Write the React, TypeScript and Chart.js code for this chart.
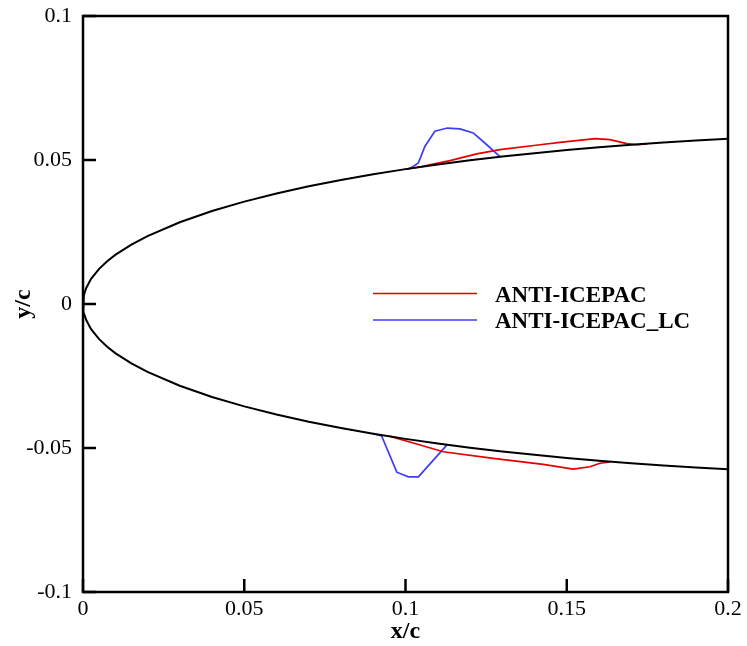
import React, { useEffect, useRef } from 'react';
import { Chart, registerables } from 'chart.js';

Chart.register(...registerables);

// Axis ranges / tick labels
const xTickValues = [0, 0.05, 0.1, 0.15, 0.2];
const yTickValues = [-0.1, -0.05, 0, 0.05, 0.1];

// Clean airfoil contour (leading edge to x/c = 0.2)
const cleanX = [0, 0.0001, 0.00025, 0.0005, 0.001, 0.0025, 0.005, 0.0075, 0.01, 0.015, 0.02, 0.03, 0.04, 0.05, 0.06, 0.07, 0.08, 0.09, 0.1, 0.11, 0.12, 0.13, 0.14, 0.15, 0.16, 0.17, 0.18, 0.19, 0.2];
const cleanUpperY = [0, 0.00177, 0.0028, 0.00395, 0.00556, 0.00872, 0.01221, 0.01485, 0.01704, 0.02064, 0.0236, 0.0284, 0.03228, 0.03555, 0.03838, 0.04086, 0.04307, 0.04505, 0.04683, 0.04843, 0.04988, 0.05119, 0.05238, 0.05345, 0.05442, 0.05529, 0.05607, 0.05676, 0.05738];
const cleanLowerY = [0, -0.00177, -0.0028, -0.00395, -0.00556, -0.00872, -0.01221, -0.01485, -0.01704, -0.02064, -0.0236, -0.0284, -0.03228, -0.03555, -0.03838, -0.04086, -0.04307, -0.04505, -0.04683, -0.04843, -0.04988, -0.05119, -0.05238, -0.05345, -0.05442, -0.05529, -0.05607, -0.05676, -0.05738];

// ANTI-ICEPAC ice shape
const redUpperX = [0.1, 0.105, 0.1075, 0.1138, 0.1221, 0.1293, 0.1417, 0.1479, 0.1588, 0.1634, 0.1686, 0.1717, 0.175];
const redUpperY = [0.0468, 0.0477, 0.0483, 0.0498, 0.0521, 0.0536, 0.0553, 0.0561, 0.0574, 0.0571, 0.0557, 0.0553, 0.0556];
const redLowerX = [0.095, 0.1035, 0.1117, 0.1272, 0.1427, 0.152, 0.1572, 0.1603, 0.1634];
const redLowerY = [-0.0459, -0.0486, -0.0513, -0.0536, -0.0557, -0.0573, -0.0565, -0.0553, -0.0548];

// ANTI-ICEPAC_LC ice shape
const blueUpperX = [0.1, 0.1014, 0.104, 0.106, 0.1091, 0.113, 0.1169, 0.121, 0.1246, 0.1293];
const blueUpperY = [0.0468, 0.0471, 0.049, 0.0547, 0.06, 0.0611, 0.0608, 0.0594, 0.0559, 0.0512];
const blueLowerX = [0.09, 0.0926, 0.0973, 0.1009, 0.104, 0.1128];
const blueLowerY = [-0.045, -0.0458, -0.0584, -0.06, -0.06, -0.049];

const seriesNames = ['ANTI-ICEPAC', 'ANTI-ICEPAC_LC'];
const seriesColors = ['rgb(228,0,0)', 'rgb(60,60,255)'];

const zip = (xs: number[], ys: number[]) => xs.map((x, i) => ({ x, y: ys[i] }));

const SERIF = '"Liberation Serif", "Times New Roman", serif';

const framePlugin = {
  id: 'framePlugin',
  afterDraw(chart: any) {
    const { ctx, chartArea: a, scales } = chart;
    ctx.save();
    ctx.strokeStyle = '#000';
    ctx.lineWidth = 2.5;
    ctx.lineCap = 'butt';
    ctx.strokeRect(a.left, a.top, a.right - a.left, a.bottom - a.top);
    const tl = 13;
    ctx.beginPath();
    scales.x.ticks.forEach((t: any) => {
      const px = scales.x.getPixelForValue(t.value);
      ctx.moveTo(px, a.bottom);
      ctx.lineTo(px, a.bottom - tl);
    });
    scales.y.ticks.forEach((t: any) => {
      const py = scales.y.getPixelForValue(t.value);
      ctx.moveTo(a.left, py);
      ctx.lineTo(a.left + tl, py);
    });
    ctx.stroke();

    // legend
    const lx0 = a.left + 290;
    const lx1 = a.left + 394;
    const tx = a.left + 412;
    const rows = [a.top + 277.5, a.top + 304];
    ctx.font = `bold 23px ${SERIF}`;
    ctx.textAlign = 'left';
    ctx.textBaseline = 'alphabetic';
    seriesNames.forEach((name, i) => {
      ctx.strokeStyle = seriesColors[i];
      ctx.lineWidth = 1.6;
      ctx.beginPath();
      ctx.moveTo(lx0, rows[i]);
      ctx.lineTo(lx1, rows[i]);
      ctx.stroke();
      ctx.fillStyle = '#000';
      ctx.fillText(name, tx, rows[i] + 8);
    });
    ctx.restore();
  },
};

export default function App() {
  const ref = useRef<HTMLCanvasElement | null>(null);

  useEffect(() => {
    if (!ref.current) return;
    const black = [
      ...zip(cleanX, cleanUpperY).reverse(),
      ...zip(cleanX, cleanLowerY),
    ];
    const lineDs = (data: any[], color: string, width: number, order: number) => ({
      data,
      showLine: true,
      borderColor: color,
      backgroundColor: color,
      borderWidth: width,
      pointRadius: 0,
      pointHoverRadius: 0,
      tension: 0,
      fill: false,
      order,
    });
    const chart = new Chart(ref.current, {
      type: 'scatter',
      data: {
        datasets: [
          lineDs(zip(blueUpperX, blueUpperY), seriesColors[1], 1.7, 3),
          lineDs(zip(blueLowerX, blueLowerY), seriesColors[1], 1.7, 3),
          lineDs(zip(redUpperX, redUpperY), seriesColors[0], 1.7, 2),
          lineDs(zip(redLowerX, redLowerY), seriesColors[0], 1.7, 2),
          lineDs(black, '#000', 2, 1),
        ],
      },
      options: {
        animation: false,
        responsive: false,
        devicePixelRatio: 1,
        layout: { padding: { top: 16, right: 19, left: 0, bottom: 0 } },
        plugins: { legend: { display: false }, tooltip: { enabled: false } },
        events: [],
        scales: {
          x: {
            type: 'linear',
            min: 0,
            max: 0.2,
            afterBuildTicks: (s: any) => {
              s.ticks = xTickValues.map((v) => ({ value: v }));
            },
            afterFit: (s: any) => {
              s.height = 54;
              s.paddingLeft = 0;
              s.paddingRight = 0;
            },
            grid: { display: false, drawTicks: false },
            border: { display: false },
            ticks: {
              padding: 4,
              color: '#000',
              font: { family: SERIF, size: 22 },
              maxRotation: 0,
              callback: (v: any) => String(Number(v)),
            },
            title: {
              display: true,
              text: 'x/c',
              color: '#000',
              font: { family: SERIF, size: 24, weight: 'bold' },
              padding: { top: 0, bottom: 0 },
            },
          },
          y: {
            type: 'linear',
            min: -0.1,
            max: 0.1,
            afterBuildTicks: (s: any) => {
              s.ticks = yTickValues.map((v) => ({ value: v }));
            },
            afterFit: (s: any) => {
              s.width = 83;
              s.paddingTop = 0;
              s.paddingBottom = 0;
            },
            grid: { display: false, drawTicks: false },
            border: { display: false },
            ticks: {
              padding: 11,
              color: '#000',
              font: { family: SERIF, size: 22 },
              callback: (v: any) => String(Number(v)),
            },
            title: {
              display: true,
              text: 'y/c',
              color: '#000',
              font: { family: SERIF, size: 24, weight: 'bold' },
              padding: { top: 9, bottom: 0 },
            },
          },
        },
      },
      plugins: [framePlugin],
    } as any);
    return () => chart.destroy();
  }, []);

  return (
    <div style={{ position: 'fixed', left: 0, top: 0, width: 747, height: 646, background: '#fff' }}>
      <canvas ref={ref} width={747} height={646} style={{ width: 747, height: 646, display: 'block' }} />
    </div>
  );
}
